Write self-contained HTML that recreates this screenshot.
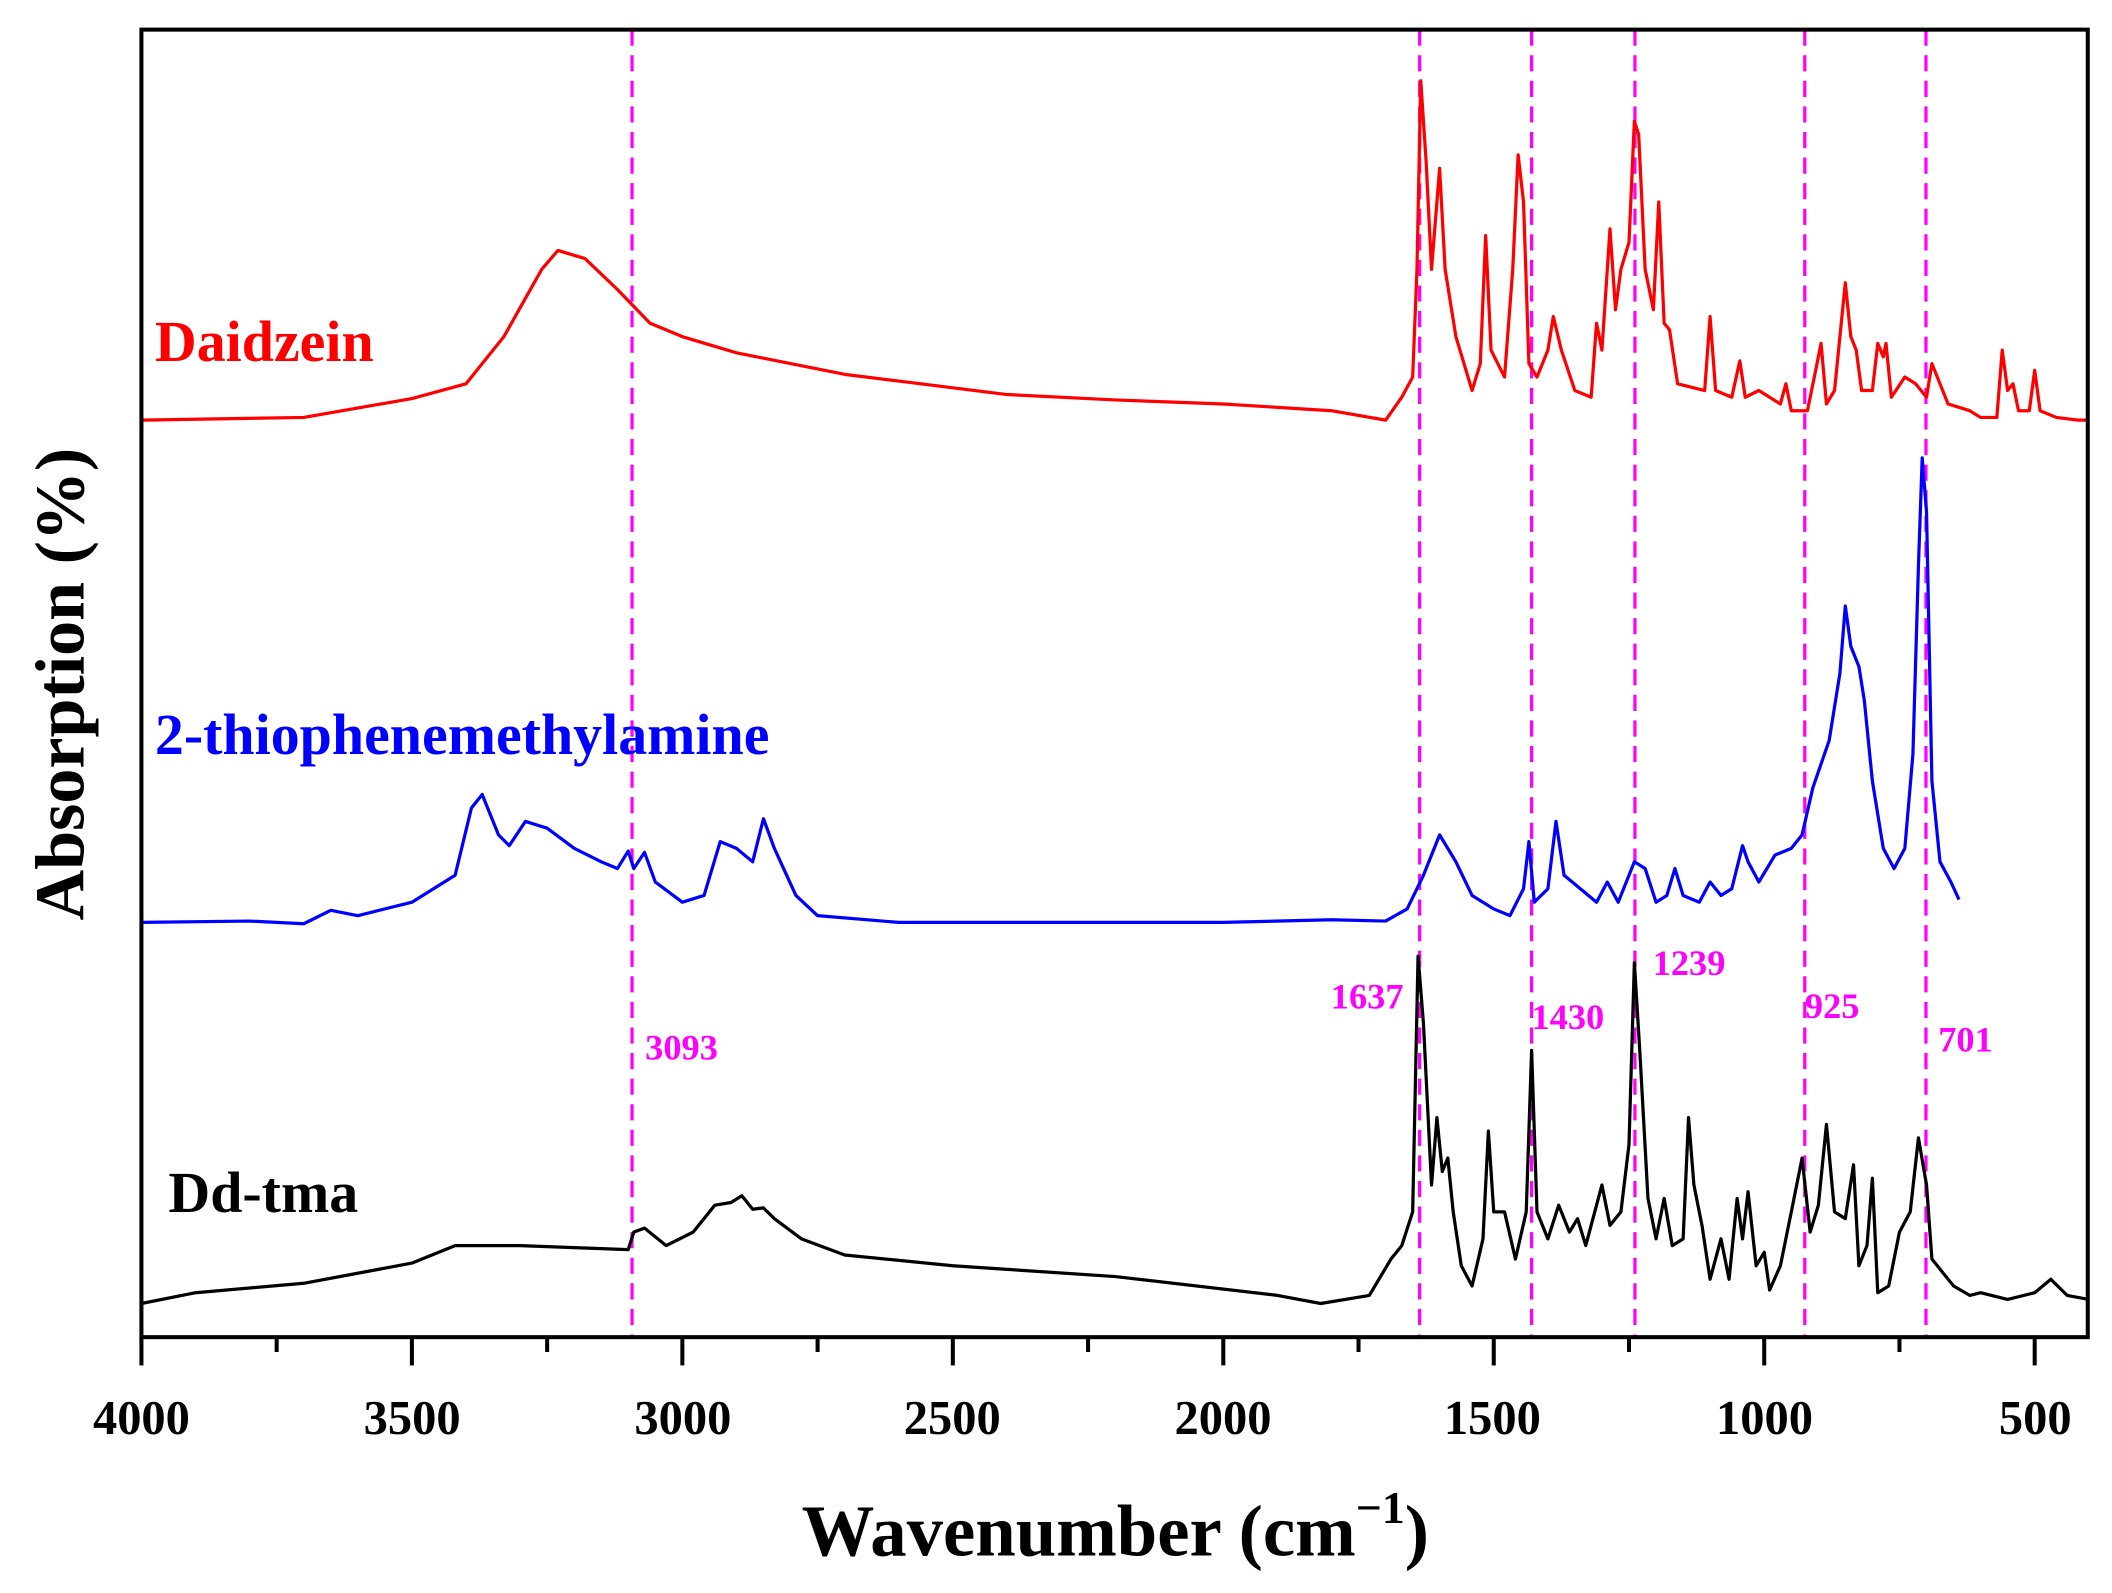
<!DOCTYPE html>
<html><head><meta charset="utf-8"><style>
html,body{margin:0;padding:0;background:#fff;}
svg{display:block;}
text{font-family:"Liberation Serif",serif;font-weight:bold;}
</style></head><body>
<svg id="s" width="2112" height="1593" viewBox="0 0 1568 1183" preserveAspectRatio="none" xmlns="http://www.w3.org/2000/svg">
<rect width="1568" height="1183" fill="#fff"/>
<g id="dash" stroke="#ff00ff" stroke-width="2.4" stroke-dasharray="12,7" fill="none"></g>
<polyline id="red" fill="none" stroke="#ff0000" stroke-width="2.4" stroke-linejoin="round"/>
<polyline id="blue" fill="none" stroke="#0000ff" stroke-width="2.4" stroke-linejoin="round"/>
<polyline id="black" fill="none" stroke="#000" stroke-width="2.4" stroke-linejoin="round"/>
<rect x="105" y="22" width="1445" height="971" fill="none" stroke="#000" stroke-width="3"/>
<g id="ticks" stroke="#000" stroke-width="3"></g>
<g font-size="36" text-anchor="middle" fill="#000">
<text x="105" y="1065">4000</text><text x="306" y="1065">3500</text><text x="507" y="1065">3000</text>
<text x="707" y="1065">2500</text><text x="908" y="1065">2000</text><text x="1108" y="1065">1500</text>
<text x="1310" y="1065">1000</text><text x="1511" y="1065">500</text>
</g>
<text x="828" y="1155" font-size="54" text-anchor="middle">Wavenumber (cm<tspan font-size="34" dy="-24">−1</tspan><tspan dy="24">)</tspan></text>
<text transform="translate(62,508) rotate(-90)" font-size="52" text-anchor="middle">Absorption (%)</text>
<text x="115" y="268" font-size="43" fill="#ff0000">Daidzein</text>
<text x="115" y="560" font-size="43" fill="#0000ff">2-thiophenemethylamine</text>
<text x="125" y="900" font-size="43" fill="#000">Dd-tma</text>
<g font-size="27" fill="#ff00ff">
<text x="479" y="787">3093</text><text x="988" y="749">1637</text><text x="1137" y="764">1430</text>
<text x="1227" y="724">1239</text><text x="1340" y="756">925</text><text x="1439" y="781">701</text>
</g>
</svg>
<script>
function X(w){return 105+(4000-w)*0.4016;}
var red=[4000,312,3700,310,3500,296,3400,285,3330,250,3260,200,3230,186,3180,192,3120,215,3060,240,3000,250,2900,262,2800,270,2700,278,2600,283,2400,293,2200,297,2000,300,1800,305,1700,312,1670,295,1650,280,1642,200,1635,60,1625,120,1615,200,1600,125,1590,200,1570,250,1540,290,1525,270,1515,175,1505,260,1480,280,1465,200,1455,115,1445,150,1435,270,1420,280,1400,260,1390,235,1375,260,1350,290,1320,295,1310,240,1300,260,1285,170,1275,230,1265,200,1250,180,1240,90,1232,100,1220,200,1205,230,1195,150,1185,240,1175,245,1160,285,1110,290,1100,235,1090,290,1060,295,1045,268,1035,295,1010,290,970,300,960,285,950,305,920,305,905,275,895,255,885,300,870,290,850,210,840,250,830,260,820,290,800,290,790,255,780,265,775,255,765,295,740,280,720,285,700,295,690,270,680,280,660,300,620,305,600,310,570,310,560,260,550,290,540,285,530,305,510,305,500,275,490,305,460,310,420,312,400,312];
var blue=[4000,685,3800,684,3700,686,3650,676,3600,680,3500,670,3420,650,3390,600,3370,590,3340,620,3320,628,3290,610,3250,615,3200,630,3150,640,3120,645,3100,632,3090,645,3070,633,3050,655,3000,670,2960,665,2930,625,2900,630,2870,640,2850,608,2830,630,2790,665,2750,680,2600,685,2000,685,1800,683,1700,684,1660,675,1630,650,1600,620,1570,640,1540,665,1500,675,1470,680,1445,660,1435,625,1425,670,1400,660,1385,610,1370,650,1340,660,1310,670,1290,655,1270,670,1240,640,1220,645,1200,670,1180,665,1165,645,1150,665,1120,670,1100,655,1080,665,1060,660,1040,628,1030,640,1010,655,980,635,950,630,930,620,910,585,880,550,860,500,850,450,840,480,825,495,815,520,800,580,780,630,760,645,740,630,725,560,715,420,708,340,700,380,690,580,675,640,655,655,640,668];
var blk=[4000,968,3900,960,3700,953,3500,938,3420,925,3300,925,3100,928,3090,915,3070,912,3030,925,2980,915,2940,895,2910,893,2890,888,2870,898,2850,897,2830,905,2780,920,2700,932,2500,940,2200,948,1900,962,1820,968,1730,962,1690,935,1670,925,1650,900,1640,710,1630,760,1615,880,1605,830,1595,870,1585,860,1575,900,1560,940,1540,955,1520,920,1510,840,1500,900,1480,900,1460,935,1440,900,1430,780,1420,900,1400,920,1380,895,1360,915,1345,905,1330,925,1300,880,1285,910,1265,900,1250,850,1240,715,1230,780,1215,890,1200,920,1185,890,1170,925,1150,920,1140,830,1130,880,1115,910,1100,950,1080,920,1065,950,1050,890,1040,920,1030,885,1015,940,1000,930,990,958,970,940,950,900,930,860,915,915,900,895,885,835,870,900,850,905,835,865,825,940,810,925,800,875,790,960,770,955,750,915,730,900,715,845,700,880,690,935,670,945,650,955,620,962,600,960,550,965,500,960,470,950,440,962,400,965];
function pts(a){var s=[];for(var i=0;i<a.length;i+=2)s.push(X(a[i]).toFixed(1)+","+a[i+1]);return s.join(" ");}
document.getElementById('red').setAttribute('points',pts(red));
document.getElementById('blue').setAttribute('points',pts(blue));
document.getElementById('black').setAttribute('points',pts(blk));
var NS="http://www.w3.org/2000/svg";
var d=document.getElementById('dash');
[3093,1637,1430,1239,925,701].forEach(function(w){var l=document.createElementNS(NS,'line');l.setAttribute('x1',X(w));l.setAttribute('x2',X(w));l.setAttribute('y1',22);l.setAttribute('y2',993);d.appendChild(l);});
var t=document.getElementById('ticks');
for(var w=4000;w>=500;w-=250){var l=document.createElementNS(NS,'line');var x=X(w);l.setAttribute('x1',x);l.setAttribute('x2',x);l.setAttribute('y1',993);l.setAttribute('y2',w%500==0?1014:1004);t.appendChild(l);}
</script>
</body></html>
